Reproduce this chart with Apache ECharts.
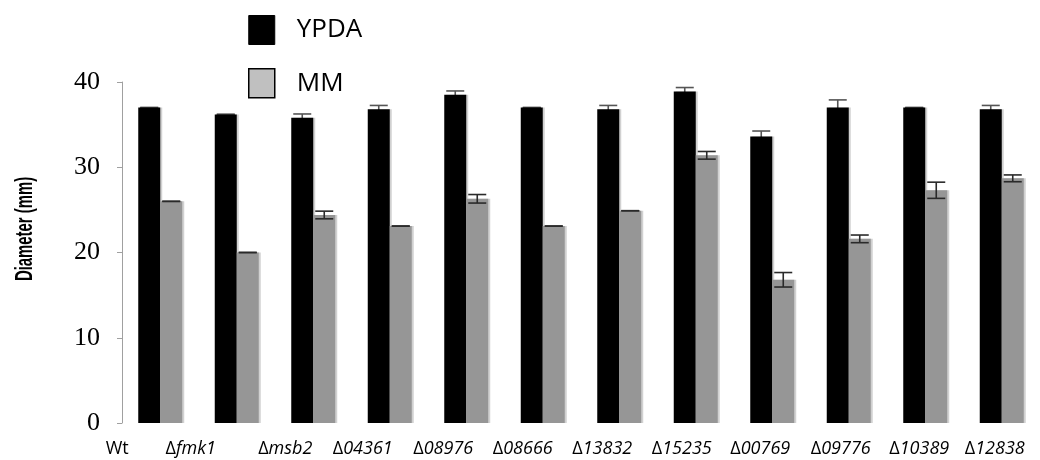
<!DOCTYPE html>
<html>
<head>
<meta charset="utf-8">
<script src="https://cdn.jsdelivr.net/npm/echarts@6/dist/echarts.min.js"></script>
<style>
  html, body { margin: 0; padding: 0; background: #fff; }
  #chart { width: 1040px; height: 460px; }
</style>
</head>
<body>
<div id="chart"></div>
<script>
// Strain names (deletion mutants are prefixed with Δ)
const categories = ['Wt', 'Δfmk1', 'Δmsb2', 'Δ04361', 'Δ08976', 'Δ08666',
                    'Δ13832', 'Δ15235', 'Δ00769', 'Δ09776', 'Δ10389', 'Δ12838'];

// Colony diameter (mm) on YPDA and MM, with standard error
const ypda    = [37.0, 36.2, 35.8, 36.8, 38.5, 37.0, 36.8, 38.9, 33.6, 37.0, 37.0, 36.8];
const ypdaErr = [0, 0, 0.45, 0.45, 0.45, 0, 0.45, 0.45, 0.65, 0.9, 0, 0.45];
const mm      = [26.0, 20.0, 24.4, 23.1, 26.3, 23.1, 24.9, 31.4, 16.8, 21.6, 27.3, 28.7];
const mmErr   = [0, 0, 0.45, 0, 0.5, 0, 0, 0.45, 0.85, 0.45, 0.95, 0.4];

const yTicks = [0, 10, 20, 30, 40];

// Horizontal nudge of each strain label (px, negative = left)
const labelShift = [-43, -46, -28, -27, -23, -20, -17, -14, -12, -8, -6, -7];

const BAR_W = 22;

function errorBars(values, errs, side, color, z, name) {
  return {
    type: 'custom',
    name: name,
    z: z,
    silent: true,
    data: values.map((v, i) => [i, v, errs[i]]),
    renderItem: function (params, api) {
      const i = api.value(0), v = api.value(1), e = api.value(2);
      const hi = api.coord([i, v + e]);
      const lo = api.coord([i, v - e]);
      const x = hi[0] + side * BAR_W / 2;
      const cap = 9;
      const style = { stroke: color, lineWidth: 1.6 };
      return {
        type: 'group',
        children: [
          { type: 'line', shape: { x1: x, y1: hi[1], x2: x, y2: lo[1] }, style: style },
          { type: 'line', shape: { x1: x - cap, y1: hi[1], x2: x + cap, y2: hi[1] }, style: style },
          { type: 'line', shape: { x1: x - cap, y1: lo[1], x2: x + cap, y2: lo[1] }, style: style }
        ]
      };
    }
  };
}

const chart = echarts.init(document.getElementById('chart'), null, { renderer: 'canvas' });

chart.setOption({
  animation: false,
  backgroundColor: '#fff',
  grid: { left: 122, top: 82, width: 921, height: 341 },
  legend: {
    orient: 'vertical',
    left: 243,
    top: 10,
    icon: 'rect',
    itemWidth: 26,
    itemHeight: 29,
    itemGap: 23,
    selectedMode: false,
    textStyle: {
      fontFamily: 'Open Sans',
      fontSize: 26,
      color: '#000',
      padding: [0, 0, 0, 17]
    },
    data: [
      { name: 'YPDA', itemStyle: { color: '#000', borderColor: '#000', borderWidth: 1 } },
      { name: 'MM', itemStyle: { color: '#c0c0c0', borderColor: '#000', borderWidth: 1.5 } }
    ]
  },
  graphic: [{
    type: 'text',
    x: 25,
    y: 229,
    rotation: Math.PI / 2,
    scaleX: 0.62,
    style: {
      text: 'Diameter (mm)',
      font: 'bold 24px "Liberation Sans", Arial, sans-serif',
      fill: '#000',
      textAlign: 'center',
      textVerticalAlign: 'middle'
    }
  }],
  xAxis: {
    type: 'category',
    data: categories.map((c, i) => {
      const s = labelShift[i];
      return {
        value: c,
        textStyle: { padding: s < 0 ? [0, -2 * s, 0, 0] : [0, 0, 0, 2 * s] }
      };
    }),
    axisLine: { show: false },
    axisTick: { show: false },
    axisLabel: {
      margin: 17,
      interval: 0,
      color: '#000',
      fontFamily: 'Open Sans',
      fontSize: 18,
      formatter: function (v) {
        if (v.charAt(0) !== 'Δ') return '{n|' + v + '}';
        return '{n|Δ}{i|' + v.slice(1) + '}';
      },
      rich: {
        n: { fontFamily: 'Open Sans', fontSize: 18, color: '#000' },
        i: { fontFamily: 'Open Sans', fontSize: 18, fontStyle: 'italic', color: '#000' }
      }
    }
  },
  yAxis: {
    type: 'value',
    min: yTicks[0],
    max: yTicks[yTicks.length - 1],
    interval: yTicks[1] - yTicks[0],
    axisLine: { show: true, lineStyle: { color: '#a0a0a0', width: 1 } },
    axisTick: { show: true, inside: false, length: 5, lineStyle: { color: '#a0a0a0' } },
    splitLine: { show: false },
    axisLabel: {
      margin: 22,
      color: '#000',
      fontFamily: '"Liberation Serif", "Times New Roman", serif',
      fontSize: 26
    }
  },
  series: [
    {
      name: 'YPDA',
      type: 'bar',
      data: ypda,
      barWidth: BAR_W,
      barGap: '0%',
      z: 2,
      itemStyle: { color: '#000', shadowColor: 'rgba(0,0,0,0.18)', shadowOffsetX: 2, shadowBlur: 0 }
    },
    {
      name: 'MM',
      type: 'bar',
      data: mm,
      barWidth: BAR_W,
      barGap: '0%',
      z: 2,
      itemStyle: { color: '#969696', shadowColor: 'rgba(0,0,0,0.18)', shadowOffsetX: 2, shadowBlur: 0 }
    },
    errorBars(ypda, ypdaErr, -1, '#555', 1, 'YPDA error'),
    errorBars(mm, mmErr, 1, '#2a2a2a', 3, 'MM error')
  ]
});
</script>
</body>
</html>
